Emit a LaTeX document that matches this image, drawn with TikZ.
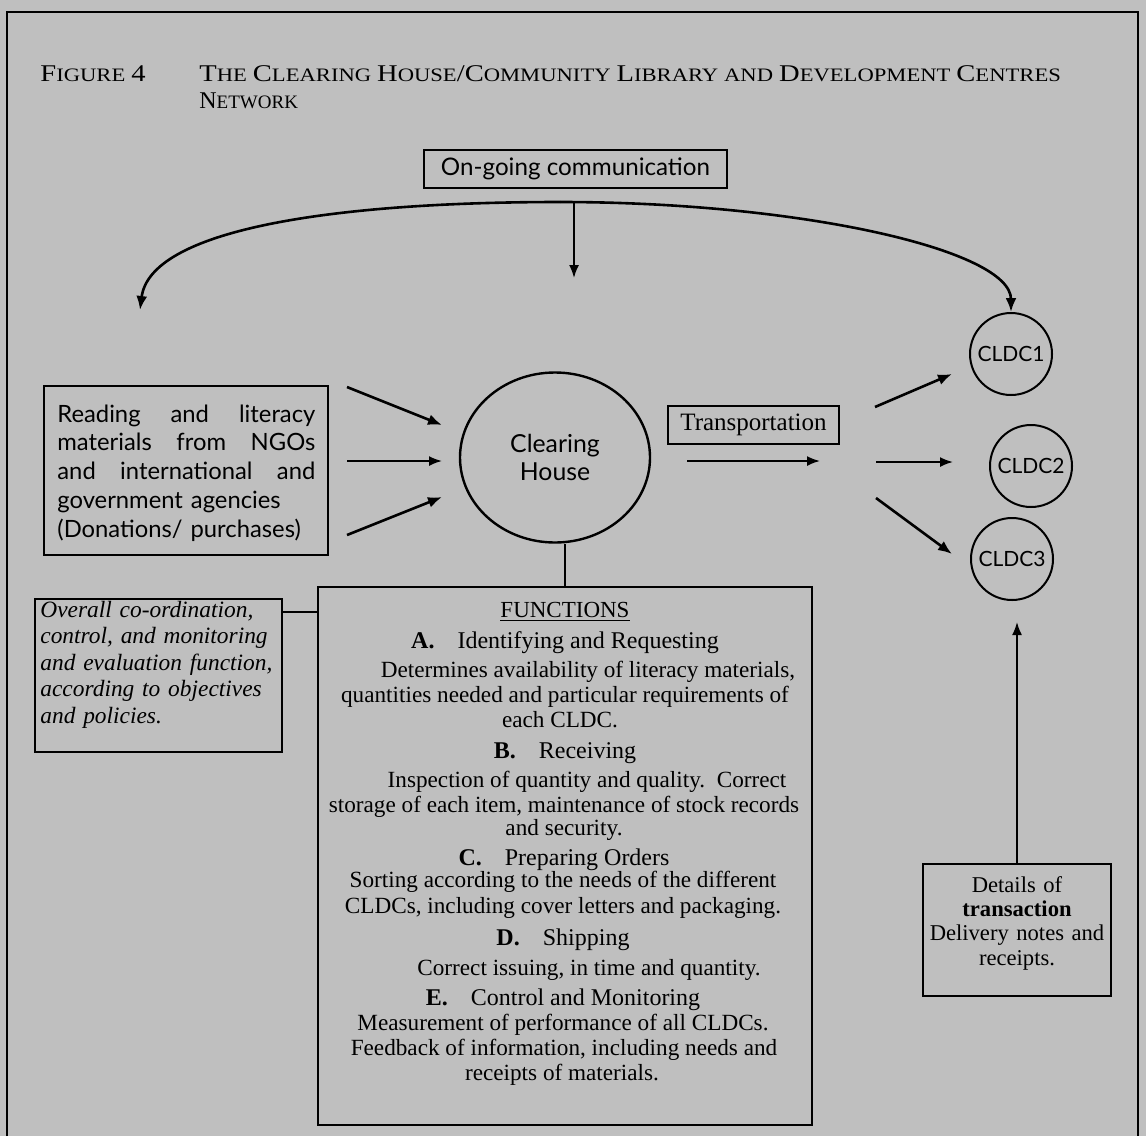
\documentclass[tikz,border=0pt]{standalone}
\usepackage{graphicx}
\usepackage{fontspec}
\setmainfont{Liberation Serif}
\newfontfamily\opt{Lato}
\usetikzlibrary{arrows.meta,shapes.geometric}
\newcommand{\bigsc}[1]{{\fontsize{12}{14}\selectfont #1}}
\newcommand{\smsc}[1]{{\fontsize{9.5}{12}\selectfont #1}}
\newcommand{\jline}[1]{\leavevmode\hbox to 129pt{#1}}
\begin{document}
\begin{tikzpicture}[x=0.5pt,y=-0.5pt,
  bx/.style={draw=black, line width=1.2pt, inner sep=0pt},
  arr/.style={line width=1.3pt, -{Latex[length=7pt,width=5.5pt]}},
  thinarr/.style={line width=0.9pt, -{Latex[length=6.5pt,width=5pt]}},
  fl/.style={anchor=base, inner sep=0pt, font=\fontsize{11.6}{13}\selectfont},
  fh/.style={anchor=base, inner sep=0pt, font=\fontsize{12}{14}\selectfont},
  ttl/.style={anchor=base west, inner sep=0pt},
  cl/.style={circle, draw=black, line width=1pt, minimum size=41pt, inner sep=0pt, font=\opt\fontsize{10.5}{12}\selectfont},
]
\fill[black!25] (0,0) rectangle (1146,1136);
\useasboundingbox (0,0) rectangle (1146,1136);
\draw[line width=1.1pt] (7,1136) -- (7,12) -- (1138,12) -- (1138,1136);

% title
\node[ttl] (fig) at (40,81) {\scalebox{1.19}[1]{\bigsc{F}\smsc{IGURE} \bigsc{4}}};
\node[ttl] (title1) at (199,81) {\scalebox{1.19}[1]{\bigsc{T}\smsc{HE} \bigsc{C}\smsc{LEARING} \bigsc{H}\smsc{OUSE}\bigsc{/C}\smsc{OMMUNITY} \bigsc{L}\smsc{IBRARY} \smsc{AND} \bigsc{D}\smsc{EVELOPMENT} \bigsc{C}\smsc{ENTRES}}};
\node[ttl] (title2) at (199,108) {\bigsc{N}\smsc{ETWORK}};

% on-going communication
\node[bx, minimum width=151.5pt, minimum height=19pt, font=\opt\fontsize{12.1}{13}\selectfont] (ongoing) at (575.5,169) {On-going communication};

% nodes
\node[ellipse, draw=black, line width=1.2pt, minimum width=95pt, minimum height=85pt, inner sep=0pt, align=center, font=\opt\fontsize{12.4}{14}\selectfont] (clear) at (555,457.5) {Clearing\\House};

\node[bx, minimum width=142pt, minimum height=84.5pt] (read) at (186,470.5) {};
\node[anchor=base west, inner sep=0pt, text width=129pt, align=left, font=\opt\fontsize{11.9}{14.4}\selectfont] (readtxt) at (57,422) {\jline{Reading\hfill and\hfill literacy}\\\jline{materials\hfill from\hfill NGOs}\\\jline{and\hfill international\hfill and}\\government agencies\\(Donations/ purchases)};

\node[bx, minimum width=123.5pt, minimum height=76.5pt] (ovbox) at (158.5,675.5) {};
\node[anchor=base west, inner sep=0pt, text width=118pt, align=left, font=\itshape\fontsize{11.7}{13.25}\selectfont] (ovtxt) at (40,617) {Overall co-ordination,\\control, and monitoring\\and evaluation function,\\according to objectives\\and policies.};

\node[bx, minimum width=247pt, minimum height=269pt] (func) at (565,856) {};
\node[fl, font=\fontsize{11.5}{13}\selectfont] (f1) at (565,617) {\underline{FUNCTIONS}};
\node[fh] (f2) at (565,648) {\textbf{A.}\hspace{11.5pt}Identifying and Requesting};
\node[fl] (f3) at (588,677) {Determines availability of literacy materials,};
\node[fl] (f4) at (565,702) {quantities needed and particular requirements of};
\node[fl] (f5) at (560,727) {each CLDC.};
\node[fh] (f6) at (565,758) {\textbf{B.}\hspace{11.5pt}Receiving};
\node[fl] (f7) at (587,787) {Inspection of quantity and quality.\ \ Correct};
\node[fl] (f8) at (564,812) {storage of each item, maintenance of stock records};
\node[fl] (f9) at (564,835) {and security.};
\node[fh] (f10) at (564,865) {\textbf{C.}\hspace{11.5pt}Preparing Orders};
\node[fl] (f11) at (563,887) {Sorting according to the needs of the different};
\node[fl] (f12) at (563,913) {CLDCs, including cover letters and packaging.};
\node[fh] (f13) at (563,945) {\textbf{D.}\hspace{11.5pt}Shipping};
\node[fl] (f14) at (589,975) {Correct issuing, in time and quantity.};
\node[fh] (f15) at (563,1005) {\textbf{E.}\hspace{11.5pt}Control and Monitoring};
\node[fl] (f16) at (563,1030) {Measurement of performance of all CLDCs.};
\node[fl] (f17) at (564,1055) {Feedback of information, including needs and};
\node[fl] (f18) at (562,1080) {receipts of materials.};

\node[bx, minimum width=85.5pt, minimum height=19pt, font=\fontsize{12.5}{14}\selectfont] (trans) at (753.5,425) {Transportation};

\node[cl] (c1) at (1011,354) {CLDC1};
\node[cl] (c2) at (1031,466) {CLDC2};
\node[cl] (c3) at (1012,559) {CLDC3};

\node[bx, minimum width=94pt, minimum height=66pt] (det) at (1017,930) {};
\node[anchor=base, inner sep=0pt, text width=92pt, align=center, font=\fontsize{11.3}{12.2}\selectfont] (dettxt) at (1017,892) {Details of\\\textbf{transaction}\\Delivery notes and\\receipts.};

% coordinates
\coordinate (arcL) at (140,310);
\coordinate (arcT) at (560,202);
\coordinate (dnS) at (574,203);
\coordinate (dnE) at (574,278);
\coordinate (i1s) at (347,387); \coordinate (i1e) at (442,425);
\coordinate (i2s) at (347,461); \coordinate (i2e) at (442,461);
\coordinate (i3s) at (347,535); \coordinate (i3e) at (442,497);
\coordinate (tA) at (687,461); \coordinate (tB) at (820,461);
\coordinate (o1s) at (875,407); \coordinate (o1e) at (952,374);
\coordinate (o2s) at (876,462); \coordinate (o2e) at (953,462);
\coordinate (o3s) at (876,498); \coordinate (o3e) at (952,554);
\coordinate (detTip) at (1018,622);
\coordinate (ovl) at (300,612);

% connectors
\draw[arr] (arcT) .. controls (330,202) and (150,230) .. (arcL);
\draw[arr] (arcT) .. controls (800,202) and (1011,250) .. (c1.north);
\draw[thinarr] (dnS) -- (dnE);
\draw[arr] (i1s) -- (i1e);
\draw[thinarr] (i2s) -- (i2e);
\draw[arr] (i3s) -- (i3e);
\draw[thinarr] (tA) -- (tB);
\draw[arr] (o1s) -- (o1e);
\draw[thinarr] (o2s) -- (o2e);
\draw[arr] (o3s) -- (o3e);
\draw[thinarr] (det.north) -- (det.north |- detTip);
\draw[line width=0.9pt] (func.north) -- (func.north |- clear.south);
\draw[line width=1.1pt] (ovbox.east |- ovl) -- (func.west |- ovl);
\end{tikzpicture}
\end{document}
